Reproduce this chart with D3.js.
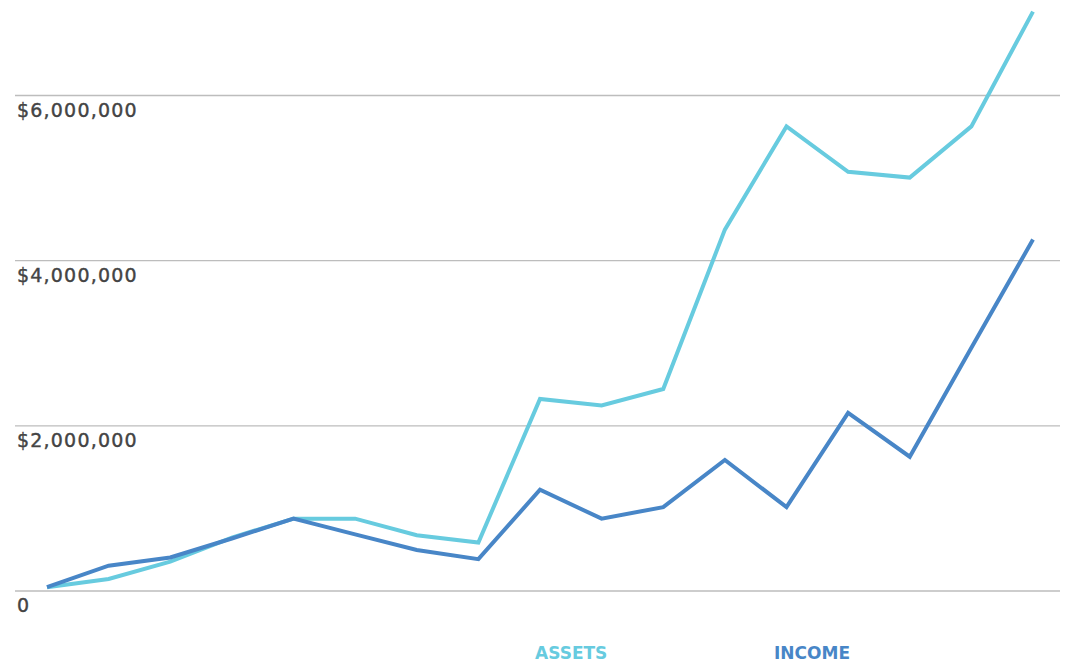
<!DOCTYPE html>
<html>
<head>
<meta charset="utf-8">
<script src="https://cdn.jsdelivr.net/npm/d3@7"></script>
<style>
  body { margin: 0; background: #fff; }
  .axis text { font-family: "DejaVu Sans", sans-serif; }
</style>
</head>
<body>
<div class="chart"></div>
<script>
// one point per period, left to right
var periods = d3.range(17)

// values in millions of dollars
var assets = [0.04, 0.14, 0.35, 0.64, 0.87, 0.87, 0.67, 0.58, 2.32, 2.24, 2.44, 4.37, 5.62, 5.07, 5.00, 5.62, 7.01]
var income = [0.04, 0.30, 0.40, 0.63, 0.87, 0.68, 0.49, 0.38, 1.22, 0.87, 1.01, 1.58, 1.01, 2.15, 1.62, 2.94, 4.25]

var yTicks = [0, 2, 4, 6]
var yTickLabels = ['0', '$2,000,000', '$4,000,000', '$6,000,000']

var seriesNames = ['ASSETS', 'INCOME']
var seriesColors = ['#67cbdf', '#4886c7']

var W = 1080, H = 662

var svg = d3.select('.chart').append('svg')
    .attr('width', W)
    .attr('height', H)

// scales
var xScale = d3.scalePoint()
    .domain(periods)
    .range([47, 1033])

var yScale = d3.scaleLinear()
    .domain([0, 6])
    .range([590.5, 95])

// gridlines
var yAxis = d3.axisLeft(yScale)
    .tickValues(yTicks)
    .tickSize(-1045)
    .tickFormat(function(d, i){ return yTickLabels[i] })

var yAx = svg.append('g')
    .attr('class', 'y axis')
    .attr('transform', 'translate(15,0)')
    .call(yAxis)

yAx.select('.domain').remove()
yAx.selectAll('line')
    .attr('stroke', '#bdbdbd')
    .attr('stroke-width', 1.3)
yAx.selectAll('text')
    .attr('x', 2)
    .attr('dy', 21)
    .style('text-anchor', 'start')
    .style('font-size', '19px')
    .style('letter-spacing', '1.2px')
    .style('fill', '#444')
    .style('stroke', '#444')
    .style('stroke-width', 0.4)

// lines
var line = d3.line()
    .x(function(d, i){ return xScale(periods[i]) })
    .y(function(d){ return yScale(d) })

var allSeries = [assets, income]

svg.selectAll('.series')
    .data(allSeries)
    .enter().append('path')
    .attr('class', 'series')
    .attr('d', line)
    .attr('fill', 'none')
    .attr('stroke', function(d, i){ return seriesColors[i] })
    .attr('stroke-width', 4)
    .attr('stroke-linejoin', 'miter')

// legend
var legendX = [535, 774]
svg.selectAll('.legend')
    .data(seriesNames)
    .enter().append('text')
    .attr('class', 'legend')
    .attr('x', function(d, i){ return legendX[i] })
    .attr('y', 659)
    .text(function(d){ return d })
    .style('font-family', '"DejaVu Sans", sans-serif')
    .style('font-size', '17px')
    .style('font-weight', 'bold')
    .style('fill', function(d, i){ return seriesColors[i] })
</script>
</body>
</html>
